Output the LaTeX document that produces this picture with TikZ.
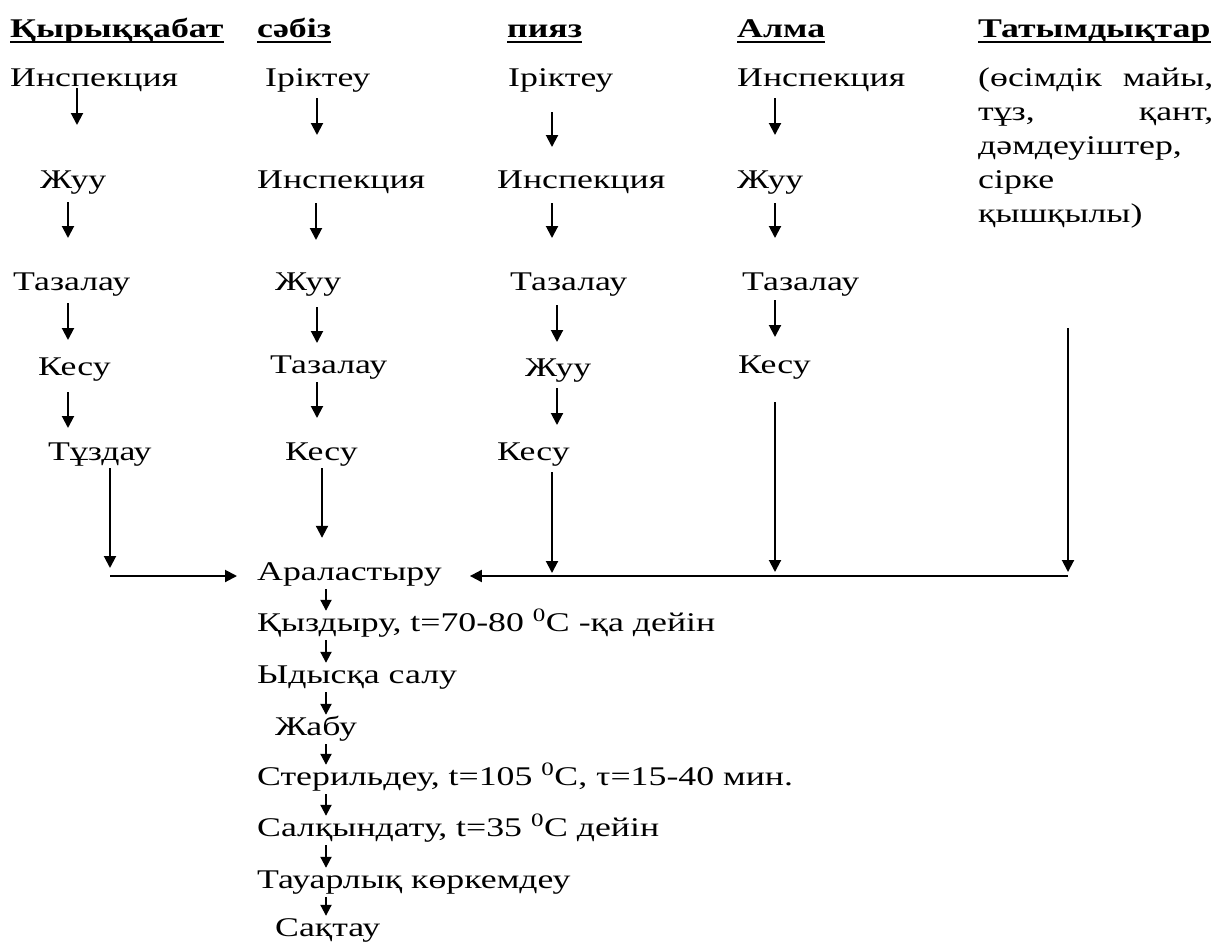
\documentclass[tikz,border=0pt]{standalone}
\usepackage{fontspec}
\setmainfont{Liberation Serif}[FakeStretch=1.325]
\usetikzlibrary{arrows.meta,calc}

\newcommand{\bodyfont}{\fontsize{27}{34}\selectfont}

\tikzset{
  stp/.style={font=\bodyfont, inner sep=0pt, anchor=base west, text height=18pt, text depth=5pt},
  hdr/.style={stp, font=\bodyfont\bfseries},
  arr/.style={line width=2pt, -{Triangle[width=12pt,length=12pt]}},
  arrs/.style={line width=2pt, -{Triangle[width=11pt,length=11pt]}},
  ul/.style={line width=1.8pt}
}

\begin{document}
\begin{tikzpicture}[x=1pt, y=-1pt]
\useasboundingbox (0,0) rectangle (1217,945);

% headers
\node[hdr] (h1) at (10,37) {Қырыққабат};
\node[hdr] (h2) at (257,37) {сәбіз};
\node[hdr] (h3) at (507,37) {пияз};
\node[hdr] (h4) at (737,37) {Алма};
\node[hdr] (h5) at (978,37) {Татымдықтар};
\foreach \h in {h1,h2,h3,h4,h5}
  \draw[ul] (\h.south west) -- (\h.south east);

% Қырыққабат
\node[stp] (ins1) at (10,86) {Инспекция};
\node[stp] (zhu1) at (40,188) {Жуу};
\node[stp] (taz1) at (13,290) {Тазалау};
\node[stp] (kes1) at (38,375) {Кесу};
\node[stp] (tuz1) at (48,460) {Тұздау};

% сәбіз
\node[stp] (iri2) at (265,86) {Іріктеу};
\node[stp] (ins2) at (257,188) {Инспекция};
\node[stp] (zhu2) at (275,290) {Жуу};
\node[stp] (taz2) at (270,373) {Тазалау};
\node[stp] (kes2) at (285,460) {Кесу};

% пияз
\node[stp] (iri3) at (508,86) {Іріктеу};
\node[stp] (ins3) at (497,188) {Инспекция};
\node[stp] (taz3) at (510,290) {Тазалау};
\node[stp] (zhu3) at (525,376) {Жуу};
\node[stp] (kes3) at (497,460) {Кесу};

% Алма
\node[stp] (ins4) at (737,86) {Инспекция};
\node[stp] (zhu4) at (737,188) {Жуу};
\node[stp] (taz4) at (742,290) {Тазалау};
\node[stp] (kes4) at (738,373) {Кесу};

% Татымдықтар
\node[font=\bodyfont, inner sep=0pt, anchor=base west] (spice) at (978,86)
  {\begin{tabular}[t]{@{}p{235pt}@{}}(өсімдік\hfill майы,\\ тұз,\hfill қант,\\ дәмдеуіштер,\\ сірке\\ қышқылы)\end{tabular}};

% main line
\node[stp] (mix) at (257,580) {Араластыру};
\node[stp] (qyz) at (257,631) {Қыздыру, t=70-80 \textsuperscript{0}C -қа дейін};
\node[stp] (ydy) at (257,683) {Ыдысқа салу};
\node[stp] (jab) at (275,735) {Жабу};
\node[stp] (ster) at (257,785) {Стерильдеу, t=105 \textsuperscript{0}C, τ=15-40 мин.};
\node[stp] (salq) at (257,836) {Салқындату, t=35 \textsuperscript{0}C дейін};
\node[stp] (tau) at (257,888) {Тауарлық көркемдеу};
\node[stp] (saq) at (275,936) {Сақтау};

\coordinate (ml) at (110,576);
\coordinate (mr) at (1068,576);
\coordinate (sp) at (1068,328);

% short steps (offsets from the baselines)
\foreach \a/\b/\x/\s/\e in {ins1/zhu1/77/2/-63, zhu1/taz1/68/14/-52, taz1/kes1/68/13/-35, kes1/tuz1/68/17/-32,
    iri2/ins2/317/12/-53, ins2/zhu2/316/15/-50, zhu2/taz2/317/17/-30, taz2/kes2/317/9/-42,
    iri3/ins3/552/26/-41, ins3/taz3/552/15/-52, taz3/zhu3/557/15/-34, zhu3/kes3/557/12/-35,
    ins4/zhu4/775/12/-53, zhu4/taz4/775/15/-52, taz4/kes4/775/10/-36}
  \draw[arr] ($(\a.base -| \x,0)+(0,\s)$) -- ($(\b.base -| \x,0)+(0,\e)$);

% into Араластыру
\draw[arr, shorten <=3pt, shorten >=8pt] (tuz1.south -| ml) -- (ml);
\draw[arr, shorten >=20pt] (ml) -- (ml -| mix.west);
\draw[arr, shorten <=3pt, shorten >=24pt] (kes2.south -| 322,0) -- (mix.north -| 322,0);
\draw[arr, shorten <=7pt, shorten >=3pt] (kes3.south -| 552,0) -- (mr -| 552,0);
\draw[arr, shorten <=24pt, shorten >=4pt] (kes4.south -| 775,0) -- (mr -| 775,0);
\draw[arr, shorten >=4pt] (sp) -- (mr);
\draw[arr, shorten >=28pt] (mr) -- (mr -| mix.east);

% processing
\foreach \a/\b in {mix/qyz, qyz/ydy, ydy/jab, jab/ster, ster/salq, salq/tau, tau/saq}
  \draw[arrs, shorten <=4pt, shorten >=2pt] (\a.south -| 326,0) -- (\b.north -| 326,0);
\end{tikzpicture}
\end{document}
